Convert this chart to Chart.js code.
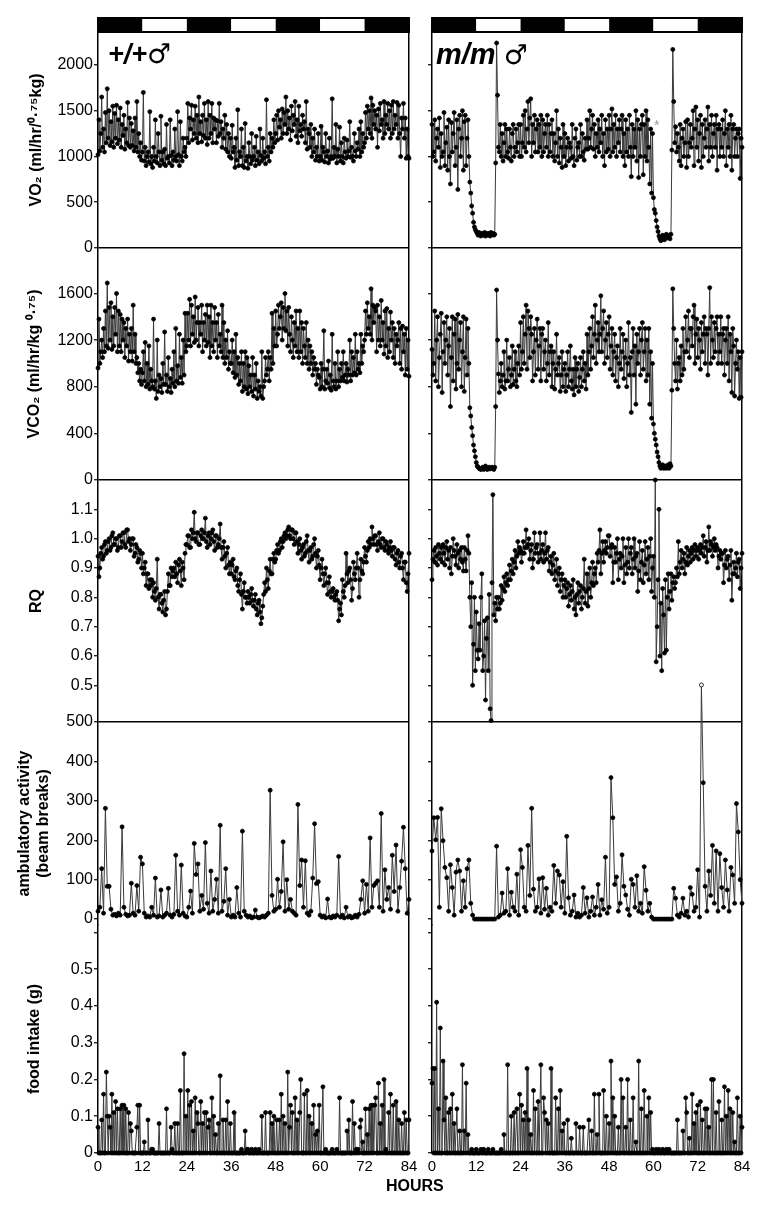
<!DOCTYPE html>
<html>
<head>
<meta charset="utf-8">
<script src="https://cdn.jsdelivr.net/npm/chart.js@4.4.0/dist/chart.umd.min.js"></script>
<style>
  body { margin: 0; background: #fff; }
  #wrap { position: relative; width: 768px; height: 1207px; overflow: hidden; font-family: 'Liberation Sans', Arial, sans-serif; }
  canvas { position: absolute; top: 0; }
  #left { left: 0; }
  #right { left: 412px; }
  .geno { position: absolute; font-weight: bold; font-style: italic; color: #000; white-space: nowrap; line-height: 1; }
  .sex { font-family: 'DejaVu Sans', sans-serif; font-style: normal; font-weight: bold; }
</style>
</head>
<body>
<div id="wrap">
  <canvas id="left" width="430" height="1207" style="width:430px;height:1207px"></canvas>
  <canvas id="right" width="356" height="1207" style="width:356px;height:1207px"></canvas>
  <div class="geno" style="left:108px; top:40px; font-size:27px;">+/+<span class="sex" style="font-size:27px;">&#9794;</span></div>
  <div class="geno" style="left:436px; top:40px; font-size:29px;">m/m <span class="sex" style="font-size:27px;">&#9794;</span></div>
  <div style="position:absolute; left:654px; top:117px; font-size:14px; color:#999;">*</div>
  <div style="position:absolute; left:386px; top:1177px; font-size:16px; font-weight:bold;">HOURS</div>
</div>
<script>
// hours / light cycle
const hourTicks = [0, 12, 24, 36, 48, 60, 72, 84];
const phaseStart = [0, 12, 24, 36, 48, 60, 72];
const phaseDark = [1, 0, 1, 0, 1, 0, 1];

// tick labels per panel
const vo2Ticks = [0, 500, 1000, 1500, 2000];
const vco2Ticks = [0, 400, 800, 1200, 1600];
const rqTicks = [0.5, 0.6, 0.7, 0.8, 0.9, 1.0, 1.1];
const ambTicks = [0, 100, 200, 300, 400, 500];
const foodTicks = [0, 0.1, 0.2, 0.3, 0.4, 0.5, 0.6];

// +/+ male. gas exchange and food every 0.25 h, activity every 0.5 h
const wtVO2 = [
  1020,1400,1060,1250,1650,1100,1300,1050,1480,1150,1740,1200,
  1500,1120,1380,1160,1550,1100,1470,1200,1560,1140,1400,1180,
  1530,1100,1350,1230,1450,1080,1300,1150,1590,1120,1420,1100,
  1360,1120,1280,1060,1420,1100,1600,1050,1250,1000,1150,960,
  1050,1700,950,1100,900,1000,1050,940,1490,920,1000,880,
  1100,950,1400,1000,930,1250,1050,900,1440,960,1050,920,
  1080,900,1350,980,1000,930,1400,1010,900,1050,960,1300,
  1000,950,1490,1020,900,1380,1000,950,1200,1050,1100,1000,
  1200,1580,1150,1420,1300,1560,1180,1400,1250,1550,1200,1450,
  1150,1650,1250,1380,1160,1450,1230,1580,1200,1400,1130,1600,
  1200,1450,1250,1580,1150,1420,1300,1400,1150,1390,1220,1580,
  1250,1380,1100,1300,1200,1450,1080,1350,1050,1250,1000,1200,
  980,1340,1050,1100,880,1200,960,1510,900,1050,1000,1300,
  900,1100,880,1360,950,1000,870,1150,1000,920,1250,960,
  1000,1100,900,1220,960,1050,920,1300,1010,950,1200,980,
  1050,920,1620,1000,1100,950,1250,1050,1200,1100,1400,1150,
  1250,1450,1180,1500,1320,1400,1200,1520,1250,1480,1350,1650,
  1250,1500,1300,1420,1180,1550,1280,1450,1350,1600,1220,1400,
  1150,1550,1280,1350,1220,1450,1300,1380,1150,1600,1080,1300,
  1250,1100,1350,1000,1200,1050,1300,960,1100,1000,1250,950,
  1000,1330,960,1100,1050,940,1250,1000,1060,930,1200,970,
  1000,1630,980,1100,1000,1350,930,1080,1000,1320,950,1150,
  1000,930,1200,1050,980,1180,1000,1060,1380,990,1100,1000,
  950,1250,1060,1000,1150,1080,1300,1000,1380,1050,1250,1100,
  1150,1480,1200,1550,1300,1500,1250,1640,1200,1560,1350,1500,
  1300,1450,1100,1520,1280,1580,1350,1400,1200,1600,1250,1450,
  1350,1580,1300,1500,1200,1560,1250,1600,1300,1450,1350,1590,
  1200,1560,1250,1000,1420,1300,1580,1200,1420,980,1300,1000,
  980
];
const wtVCO2 = [
  960,1380,1000,1100,1200,1050,1300,1100,1450,1150,1690,1130,
  1480,1200,1520,1120,1400,1150,1480,1250,1600,1100,1450,1150,
  1420,1100,1380,1200,1350,1050,1300,1150,1380,1020,1250,1100,
  1300,1020,1500,1100,1250,1000,1050,920,1000,850,950,820,
  920,1100,850,1180,800,1000,820,1150,780,950,850,800,
  1380,780,850,700,1200,760,900,800,870,750,1000,820,
  1270,820,900,760,1050,800,870,750,950,830,1100,800,
  1300,850,980,830,1250,880,1050,830,1200,900,1430,1100,
  1150,1430,1200,1550,1150,1500,1250,1400,1180,1570,1200,1350,
  1480,1150,1350,1250,1500,1100,1350,1200,1420,1150,1500,1180,
  1400,1050,1500,1150,1350,1100,1480,1200,1350,1050,1420,1150,
  1250,1100,1500,1050,1350,1000,1200,1050,1280,950,1100,1000,
  1000,1200,920,1100,880,1250,900,1050,820,1000,850,1100,
  760,1000,800,1100,780,1050,740,980,800,900,760,1050,
  720,900,780,1000,700,850,760,800,720,1100,700,800,
  850,1050,900,950,1100,850,1050,950,1430,1000,1300,1150,
  1450,1150,1250,1500,1300,1400,1520,1200,1480,1300,1600,1280,
  1450,1150,1480,1250,1100,1400,1200,1050,1350,1150,1450,1100,
  1300,1050,1450,1100,1350,1000,1300,1150,1050,1350,1000,1200,
  950,1150,1000,1100,900,1050,950,1000,820,950,900,880,
  780,1000,800,950,1280,780,850,950,830,1020,790,900,
  770,1250,850,800,1000,780,850,1100,800,950,850,1000,
  880,1100,850,900,1000,840,950,900,1200,850,1100,900,
  1050,920,1250,900,1100,950,1000,920,1250,1000,1150,1100,
  1200,1450,1250,1520,1300,1400,1250,1640,1200,1500,1350,1480,
  1450,1100,1500,1200,1400,1150,1540,1200,1350,1080,1450,1150,
  1470,1050,1300,1100,1440,1200,1350,1050,1300,1000,1250,1150,
  1200,1350,1000,1300,950,1320,1100,1250,900,1300,950,1200,
  890
];
const wtRQ = [
  0.94,0.87,0.90,0.95,0.97,0.93,0.94,0.98,0.99,0.95,0.96,0.99,
  1.00,0.96,0.97,1.01,1.02,0.98,0.98,1.00,1.00,0.96,0.97,1.01,
  1.01,0.97,0.99,1.02,1.02,0.98,0.97,1.03,1.03,0.99,1.00,0.96,
  0.98,1.00,1.00,0.94,0.95,0.98,0.97,0.92,0.93,0.96,0.95,0.90,
  0.95,0.88,0.90,0.92,0.84,0.88,0.88,0.83,0.86,0.84,0.86,0.80,
  0.85,0.82,0.79,0.83,0.93,0.80,0.76,0.81,0.81,0.78,0.75,0.79,
  0.82,0.74,0.76,0.82,0.88,0.84,0.84,0.90,0.87,0.89,0.90,0.87,
  0.92,0.88,0.85,0.91,0.93,0.89,0.84,0.92,0.90,0.86,0.95,0.98,
  0.98,1.01,1.01,0.97,0.97,1.03,1.00,1.02,1.09,1.00,0.99,1.02,
  1.02,0.98,0.98,1.01,1.03,1.00,1.00,1.02,1.07,0.99,0.97,1.01,
  1.02,0.98,1.00,1.02,1.03,0.99,0.96,1.01,1.01,0.97,0.98,1.00,
  1.05,0.97,0.93,0.97,0.99,0.94,0.90,0.95,0.97,0.91,0.88,0.92,
  0.88,0.91,0.93,0.87,0.86,0.89,0.90,0.84,0.82,0.86,0.88,0.81,
  0.76,0.82,0.85,0.80,0.80,0.78,0.82,0.80,0.78,0.81,0.83,0.79,
  0.77,0.79,0.81,0.76,0.74,0.78,0.79,0.75,0.71,0.73,0.77,0.81,
  0.85,0.82,0.90,0.86,0.83,0.89,0.93,0.88,0.88,0.93,0.95,0.92,
  0.93,0.96,0.98,0.95,0.96,0.99,1.00,0.97,0.99,1.01,1.02,1.00,
  1.01,1.03,1.04,1.01,1.00,1.03,1.03,1.00,0.98,1.02,1.02,0.99,
  0.95,0.98,1.00,0.96,0.93,0.97,0.98,0.94,0.95,0.99,1.01,0.96,
  0.92,0.96,0.97,0.93,0.94,0.98,1.00,0.95,0.90,0.94,0.96,0.91,
  0.86,0.90,0.93,0.88,0.84,0.88,0.90,0.85,0.81,0.85,0.87,0.82,
  0.80,0.82,0.83,0.80,0.79,0.81,0.82,0.79,0.72,0.76,0.78,0.74,
  0.86,0.82,0.80,0.84,0.95,0.88,0.85,0.89,0.90,0.86,0.79,0.83,
  0.92,0.88,0.86,0.90,0.95,0.90,0.80,0.86,0.93,0.89,0.88,0.92,
  0.97,0.94,0.92,0.96,0.99,0.97,1.00,0.98,1.04,1.00,0.98,1.01,
  1.01,0.98,0.96,0.99,1.02,0.98,0.97,1.00,1.00,0.97,0.96,0.99,
  0.98,0.96,0.95,0.97,0.99,0.96,0.94,0.97,0.97,0.93,0.91,0.95,
  0.96,0.92,0.90,0.94,0.95,0.90,0.86,0.92,0.92,0.85,0.82,0.88,
  0.95
];
const wtAmb = [
  20,30,128,15,281,83,83,25,10,12, 8,15,10,234,30,12,8,10,91,15,
  10,85,20,157,140,15,5,8,5,30, 10,104,5,8,74,5,10,15,78,10,
  5,12,162,20,10,137,15,8,5,30, 71,15,192,113,140,20,60,25,194,40,
  15,122,20,50,101,15,238,20,45,128, 10,50,5,10,5,80,15,5,223,20,
  10,5,8,3,5,23,5,3,5,8, 5,10,15,327,60,20,25,101,30,70,
  196,20,100,25,50,20,15,10,291,85, 150,30,148,15,10,20,104,242,90,95,
  10,5,8,3,51,5,3,8,5,10, 159,5,10,3,30,5,8,3,5,10,
  5,12,50,97,15,88,20,206,30,85, 91,97,30,268,20,125,50,80,25,162,
  70,188,20,80,147,233,128,15,50
];
const wtFood = [
  0.07,0,0,0,0.09,0,0.16,0,0,0.22,0.10,0,
  0.10,0.07,0,0.16,0,0.11,0,0.14,0,0.12,0,0,
  0.12,0,0.13,0,0.13,0,0.12,0,0,0.11,0,0.08,
  0.06,0,0,0,0,0,0.07,0.13,0,0.13,0,0,
  0,0,0.03,0,0,0,0.09,0,0,0,0.01,0.01,
  0,0,0,0,0,0,0.08,0,0,0,0,0,
  0,0,0.12,0,0,0,0,0.07,0.01,0,0,0.08,
  0,0,0.08,0,0,0.17,0,0,0,0.27,0,0.10,
  0,0.17,0,0.13,0,0.14,0,0.06,0,0.15,0,0.11,
  0.08,0,0,0.14,0,0.08,0,0.11,0,0.11,0,0.07,
  0.09,0,0,0.15,0,0.10,0,0.05,0,0,0.08,0,
  0.21,0,0,0.09,0,0,0.09,0,0.14,0,0,0.08,
  0,0,0,0.11,0,0,0,0,0,0,0,0.01,
  0,0,0,0.06,0,0.01,0.01,0,0,0,0.01,0,
  0,0,0.01,0,0,0,0.01,0,0,0.10,0,0,
  0,0.11,0,0,0,0,0.11,0,0.08,0,0.10,0,
  0,0.09,0,0,0.09,0,0.16,0,0.10,0,0.08,0,
  0,0.22,0,0.07,0.13,0,0.11,0,0,0.15,0,0.09,
  0,0,0.11,0.20,0,0,0,0.16,0,0,0.17,0,
  0.10,0,0,0.08,0,0.13,0,0.05,0,0.06,0,0.13,
  0,0,0,0.18,0,0,0.01,0,0,0,0,0,
  0,0.01,0,0,0,0,0.01,0,0,0.15,0,0,
  0,0,0,0,0,0.06,0,0.09,0,0,0,0.14,
  0,0.08,0,0.01,0,0.01,0,0.07,0.09,0,0.03,0,
  0,0.12,0,0.05,0,0.12,0,0.13,0,0.13,0,0.13,
  0.15,0,0,0.19,0,0.08,0,0.13,0,0.20,0,0.01,
  0,0,0.11,0,0.16,0,0,0.13,0,0,0.14,0,
  0,0.09,0,0,0.08,0,0,0.11,0,0.09,0,0,
  0.09
];

// m/m male
const mmVO2 = [
  1350,1000,1050,1400,950,1200,1300,1100,1420,880,1250,1000,
  1050,1480,900,1150,1320,850,1400,1000,700,1370,1050,1250,
  1480,900,1100,1400,640,1300,1450,1000,1200,1500,850,1380,
  1450,900,1200,1400,1000,720,600,460,380,280,230,200,
  180,160,140,170,150,130,160,150,140,170,130,160,
  140,150,160,130,170,150,160,140,150,930,2240,1670,
  1100,1050,1350,1000,1250,950,1150,1350,1000,1300,1050,980,
  1300,1100,950,1250,1350,1000,1100,1300,1050,1150,1350,1000,
  1350,1000,1150,1450,1100,1500,1050,1300,1600,1150,1420,1630,
  1000,1350,1150,1450,1050,1300,1400,1050,1350,1100,1450,1000,
  1400,1050,1250,1350,1100,1450,1000,1350,1050,1250,1400,1000,
  1250,950,1150,1500,1000,1300,930,1200,1100,880,1350,1000,
  1250,900,1100,1200,950,1150,1100,980,1350,1000,900,1200,
  1300,960,1100,1150,1000,1350,1000,1250,1050,960,1200,1080,
  1400,1080,1200,1500,1100,1300,1450,1080,1350,1000,1250,1100,
  1400,1050,1300,1150,1450,1000,1250,900,1400,1050,1300,1080,
  1450,1000,1300,1520,1050,1350,1100,1450,1000,1300,1150,1400,
  1050,1300,1450,1000,1250,900,1400,1050,1300,1000,1450,1100,
  780,1350,1000,1300,1100,1500,950,1400,770,1300,1000,1350,
  1450,800,1350,1000,1500,950,1400,1100,700,1300,600,1250,
  550,420,380,300,230,180,130,100,80,120,140,100,
  90,130,150,110,120,140,100,150,1070,2170,1600,1150,
  1325,1050,1250,1100,950,1350,900,1200,1300,1000,1150,1380,
  880,1400,1000,1150,1350,1100,1200,1500,900,1300,1540,1100,
  1400,950,1250,1450,880,1350,1000,1200,1400,1100,1300,1540,
  950,1350,1100,1450,1000,1250,1350,1100,1450,850,1300,1350,
  1000,1300,1100,1400,1000,1250,1500,900,1300,1100,1350,1000,
  1450,850,1300,1350,1000,1200,1300,1000,1250,1300,760,1200,
  1100
];
const mmVCO2 = [
  1120,900,1000,1450,850,1200,1400,800,1050,1250,1430,750,
  1100,1350,1000,1200,1400,900,1150,1300,630,1050,1400,850,
  1250,1380,780,1000,1420,950,1200,1350,800,1100,1400,760,
  1050,1380,900,1300,1000,620,550,450,380,300,250,200,
  150,120,110,100,95,90,100,110,90,100,120,95,
  90,100,110,95,105,110,100,90,110,630,1630,1200,
  910,750,850,1000,800,900,1100,780,850,1200,850,950,
  1050,800,900,1150,820,950,1100,850,800,1000,1150,900,
  1350,950,1100,1400,1000,1250,1500,950,1450,1300,1050,1400,
  1250,850,1100,1300,900,1200,1380,950,1150,1300,850,1250,
  1300,950,1100,1200,850,1000,1350,900,1100,1150,800,1000,
  1100,780,950,1250,900,1000,1050,760,900,1100,800,950,
  1000,760,900,1100,800,950,1150,850,780,950,730,1050,
  800,950,1000,760,880,1050,800,950,1100,850,1000,780,
  1250,900,1100,1300,950,1150,1400,1050,1250,1500,1000,1200,
  1350,1100,1250,1580,1100,1300,1450,1000,1200,1350,1050,1250,
  1400,950,1150,1300,900,1100,1250,850,1050,1150,800,1000,
  1300,950,1100,1250,870,1050,1200,800,1000,1350,900,1050,
  580,1100,1300,900,1150,650,1250,1000,1100,1300,900,1200,
  1350,950,1100,1300,850,1200,900,1300,650,1100,530,1000,
  480,400,350,300,240,200,150,120,100,110,130,100,
  105,120,100,110,130,100,140,120,770,1640,1300,1000,
  850,1200,780,1000,1050,850,1150,900,1300,950,1100,1400,
  1100,1200,1450,1050,1300,1300,1150,1400,1500,1000,1250,1380,
  1050,1300,1200,950,1350,1100,1250,1400,1000,1300,1250,900,
  1300,1650,1000,1400,1200,1050,1350,1100,1300,1400,1000,1250,
  1100,1400,1000,1250,1300,900,1200,1300,1000,1400,850,1250,
  1100,750,1300,1150,720,1000,1200,950,1100,700,1050,710,
  1100
];
const mmRQ = [
  0.86,0.93,0.96,0.92,0.97,0.94,0.91,0.98,0.95,0.93,0.97,0.92,
  0.98,0.95,0.91,0.97,0.99,0.93,0.96,0.90,0.97,0.88,0.94,1.00,
  0.96,0.94,0.91,0.98,0.95,0.90,0.96,0.93,0.97,0.92,0.89,0.97,
  0.93,0.89,0.96,1.01,0.95,0.80,0.70,0.85,0.50,0.64,0.80,0.55,
  0.75,0.62,0.59,0.71,0.62,0.80,0.88,0.55,0.60,0.72,0.45,0.66,
  0.73,0.55,0.81,0.42,0.38,0.85,1.15,0.74,0.78,0.72,0.80,0.76,
  0.80,0.76,0.78,0.84,0.79,0.83,0.87,0.82,0.85,0.88,0.84,0.86,
  0.91,0.86,0.89,0.93,0.88,0.92,0.96,0.90,0.94,0.99,0.95,0.97,
  0.96,0.92,0.95,0.99,0.95,0.97,1.03,0.97,0.98,1.00,0.93,0.96,
  0.98,0.90,0.93,1.02,0.95,0.97,0.98,0.92,0.95,1.02,0.93,0.96,
  0.98,0.92,0.95,1.02,0.93,0.96,0.97,0.89,0.92,0.94,0.88,0.91,
  0.95,0.86,0.89,0.93,0.84,0.88,0.90,0.82,0.86,0.88,0.80,0.84,
  0.86,0.80,0.83,0.85,0.77,0.81,0.84,0.79,0.82,0.86,0.76,0.80,
  0.74,0.81,0.85,0.78,0.82,0.84,0.76,0.80,0.83,0.93,0.78,0.82,
  0.88,0.77,0.83,0.90,0.80,0.85,0.92,0.84,0.88,0.90,0.85,0.95,
  0.92,0.96,1.03,0.88,0.95,0.99,0.92,0.96,0.99,0.95,0.97,1.01,
  1.01,0.94,0.97,0.98,0.85,0.92,0.97,0.92,0.95,1.00,0.86,0.93,
  0.95,0.90,0.94,1.00,0.85,0.91,0.97,0.88,0.92,1.00,0.90,0.95,
  0.97,0.88,0.93,1.00,0.90,0.94,0.95,0.82,0.89,0.99,0.86,0.92,
  0.96,0.85,0.91,0.99,0.88,0.93,0.97,0.86,0.94,1.00,0.82,0.90,
  0.94,0.80,1.20,0.58,0.70,0.86,1.10,0.60,0.78,0.55,0.83,0.74,
  0.61,0.86,0.62,0.80,0.88,0.76,0.82,0.88,0.79,0.85,0.87,0.83,
  0.85,0.90,0.87,0.99,0.88,0.92,0.96,0.90,0.93,0.95,0.88,0.92,
  0.97,0.91,0.94,0.96,0.92,0.95,0.97,0.93,0.96,0.98,0.94,0.96,
  0.97,0.93,0.96,0.98,0.95,0.97,1.01,0.94,0.97,0.99,0.92,0.96,
  1.04,0.96,0.99,0.98,0.94,0.97,1.00,0.96,0.98,0.97,0.90,0.94,
  0.96,0.93,0.95,0.95,0.85,0.91,0.96,0.90,0.93,0.94,0.86,0.91,
  0.96,0.79,0.88,0.92,0.88,0.90,0.95,0.87,0.92,0.93,0.83,0.90,
  0.95
];
const mmAmb = [
  173,257,201,258,30,280,199,131,105,20, 138,80,10,119,150,122,20,97,30,128,
  150,40,10,0,0,0,0,0,0,0, 0,0,0,0,0,185,5,10,66,15,
  20,128,10,68,30,20,114,10,176,131, 30,20,187,60,281,76,20,30,102,15,
  105,25,78,10,30,20,136,40,122,112, 30,95,15,210,54,10,20,61,5,15,
  5,10,80,15,54,5,20,56,10,30, 88,10,49,25,157,15,30,359,257,88,
  107,20,40,163,83,61,25,10,101,88, 30,110,20,40,15,133,73,20,40,5,
  0,0,0,0,0,0,0,0,0,0, 0,78,53,10,5,15,53,10,20,5,
  80,63,20,30,125,5,594,346,83,20, 122,60,187,40,173,20,166,80,30,150,
  74,20,131,112,40,293,221,100,40
];
const mmFood = [
  0.19,0.23,0,0.23,0,0.41,0,0.12,0,0.34,0,0,
  0.25,0.09,0,0.15,0,0,0.11,0,0.12,0,0.16,0,
  0.08,0,0,0.12,0,0,0.06,0,0,0.24,0,0.06,
  0,0.19,0,0.05,0,0,0,0.01,0,0,0,0,
  0.01,0,0,0,0,0.01,0,0,0.01,0,0,0,
  0,0.01,0,0,0,0,0.01,0,0,0,0,0,
  0,0,0,0.01,0,0,0.05,0,0,0,0.24,0,
  0,0,0.10,0,0,0.11,0,0,0.12,0,0,0.16,
  0,0.13,0,0.09,0,0.11,0,0.23,0,0.09,0,0.05,
  0,0,0.17,0,0.12,0,0,0.14,0,0,0.24,0,
  0,0.15,0.11,0,0.09,0,0.08,0,0,0.23,0,0,
  0,0,0.15,0,0,0.12,0,0.17,0,0.06,0,0.08,
  0,0,0,0.09,0,0,0,0.04,0,0,0,0,
  0.08,0,0,0,0.07,0,0,0,0.07,0,0,0,
  0,0,0.09,0,0,0.06,0,0,0.16,0,0,0.05,
  0,0.16,0,0,0,0,0.17,0,0,0.10,0,0,
  0.08,0,0.25,0,0.15,0,0.10,0,0,0,0.07,0,
  0,0.20,0,0.15,0,0,0.07,0,0.20,0,0,0.09,
  0,0,0.15,0,0,0.03,0,0,0.25,0,0,0.12,
  0,0,0.17,0,0,0.10,0,0.15,0,0.11,0,0.01,
  0,0,0,0.01,0,0,0.01,0,0,0,0.01,0,
  0,0,0.01,0,0,0.01,0,0,0,0,0,0,
  0,0,0.09,0,0,0,0,0,0.06,0,0,0.15,
  0.11,0,0,0.04,0,0,0.16,0,0.08,0,0.11,0,
  0.13,0,0,0.14,0,0.09,0,0,0.12,0,0.12,0,
  0.07,0,0,0.20,0,0.20,0,0,0.11,0,0,0.14,
  0,0,0.09,0,0,0.18,0,0.10,0,0.17,0,0.12,
  0,0,0.11,0,0.03,0,0,0.15,0,0,0.10,0,
  0.07
];

const FONT = "'Liberation Sans', Arial, Helvetica, sans-serif";

// the black/white light-cycle bar above the top panel
const lightBar = {
  id: 'lightBar',
  afterDraw(chart) {
    const { ctx, chartArea: a, scales: { x } } = chart;
    const h = 14, top = a.top - h;
    ctx.save();
    phaseStart.forEach((s, k) => {
      const x0 = x.getPixelForValue(s);
      const x1 = x.getPixelForValue(Math.min(s + 12, 84));
      ctx.fillStyle = phaseDark[k] ? '#000' : '#fff';
      ctx.fillRect(x0, top, x1 - x0, h);
    });
    ctx.strokeStyle = '#000';
    ctx.lineWidth = 2;
    ctx.strokeRect(a.left, top, a.right - a.left, h);
    ctx.restore();
  }
};

function panels(s) {
  return [
    { id: 'vo2', data: s.vo2, step: 0.25, min: 0, max: 2360, ticks: vo2Ticks, h: 216, line: 0, tpad: 27, over: 3,
      title: 'VO\u2082 (ml/hr/\u2070\u00B7\u2077\u2075kg)', fmt: v => String(v) },
    { id: 'vco2', data: s.vco2, step: 0.25, min: 0, max: 1990, ticks: vco2Ticks, h: 232, line: 0, tpad: 25, over: 3,
      title: 'VCO\u2082 (ml/hr/kg \u2070\u00B7\u2077\u2075)', fmt: v => String(v) },
    { id: 'rq', data: s.rq, step: 0.25, min: 0.375, max: 1.2, ticks: rqTicks, h: 242, line: null, tpad: 27, over: 3,
      title: 'RQ', fmt: v => v.toFixed(1) },
    { id: 'amb', data: s.amb, step: 0.5, min: -15, max: 500, ticks: ambTicks, h: 203, line: 500, tpad: 15, over: 45,
      title: ['ambulatory activity', '(beam breaks)'], fmt: v => String(v) },
    { id: 'food', data: s.food, step: 0.25, min: 0, max: 0.62, ticks: foodTicks, h: 228, line: null, tpad: 25, over: 3,
      title: 'food intake (g)', fmt: v => v === 0 ? '0' : (v > 0.55 ? '' : v.toFixed(1)) }
  ];
}

function makeChart(id, series, showLabels, axisWidth, padRight) {
  const list = panels(series);
  const scales = {
    x: {
      type: 'linear', position: 'bottom', min: 0, max: 84,
      afterBuildTicks: s => { s.ticks = hourTicks.map(v => ({ value: v })); },
      afterFit: s => { s.height = 30; s.paddingLeft = 0; s.paddingRight = 0; },
      grid: {
        drawOnChartArea: true, drawTicks: false, lineWidth: 1.5,
        color: c => (c.tick && c.tick.value === 84) ? '#000' : 'rgba(0,0,0,0)'
      },
      border: { display: true, color: '#000', width: 1.5 },
      ticks: { color: '#000', padding: 5, autoSkip: false, maxRotation: 0, font: { family: FONT, size: 15 } }
    }
  };
  list.forEach((p, k) => {
    scales[p.id] = {
      type: 'linear', position: 'left', stack: 'col', stackWeight: p.h, weight: 10 - k,
      min: p.min, max: p.max,
      afterBuildTicks: s => { s.ticks = p.ticks.map(v => ({ value: v })); },
      afterFit: s => { s.width = axisWidth; s.paddingTop = 0; s.paddingBottom = 0; },
      grid: {
        drawOnChartArea: true, drawTicks: true, tickLength: 4, lineWidth: 1.5, tickWidth: 1.2, tickColor: '#000',
        color: c => (c.tick && c.tick.value === p.line) ? '#000' : 'rgba(0,0,0,0)'
      },
      border: { display: true, color: '#000', width: 1.5 },
      ticks: {
        color: '#000', padding: 1, autoSkip: false, font: { family: FONT, size: 16 },
        callback: v => showLabels ? p.fmt(v) : ''
      },
      title: {
        display: showLabels, text: p.title, color: '#000',
        font: { family: FONT, size: 16, weight: 'bold' }, padding: { top: p.tpad, bottom: 0 }
      }
    };
  });

  const datasets = list.map(p => ({
    data: p.data.map((v, i) => ({ x: i * p.step, y: v })),
    xAxisID: 'x', yAxisID: p.id,
    clip: { left: 3, right: 3, top: p.over, bottom: 3 },
    borderColor: '#3a3a3a', borderWidth: 1, tension: 0,
    pointRadius: 2, pointHoverRadius: 2, pointBorderWidth: 0.8, pointBorderColor: '#000',
    pointBackgroundColor: c => (c.raw && c.raw.y > p.max) ? '#fff' : '#000'
  }));

  return new Chart(document.getElementById(id), {
    type: 'line',
    data: { datasets },
    options: {
      responsive: false, animation: false, devicePixelRatio: 1, events: [],
      layout: { padding: { top: 32, right: padRight, bottom: 24, left: 0 } },
      plugins: { legend: { display: false }, tooltip: { enabled: false } },
      scales
    },
    plugins: [lightBar]
  });
}

makeChart('left', { vo2: wtVO2, vco2: wtVCO2, rq: wtRQ, amb: wtAmb, food: wtFood }, true, 98, 21);
makeChart('right', { vo2: mmVO2, vco2: mmVCO2, rq: mmRQ, amb: mmAmb, food: mmFood }, false, 20, 26);
</script>
</body>
</html>
